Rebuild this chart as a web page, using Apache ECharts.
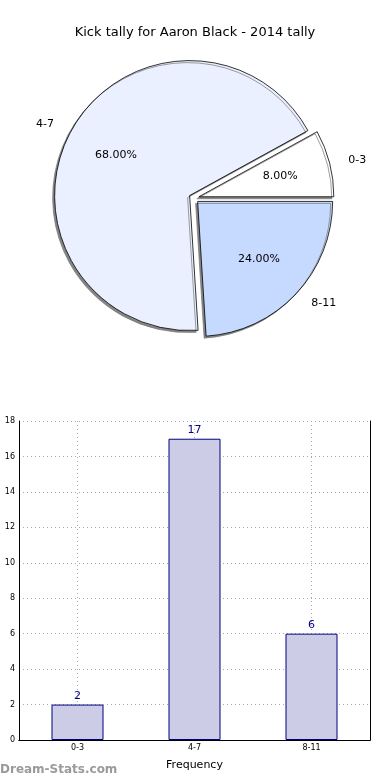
<!DOCTYPE html>
<html>
<head>
<meta charset="utf-8">
<script src="https://cdn.jsdelivr.net/npm/echarts@6/dist/echarts.min.js"></script>
<style>
html,body{margin:0;padding:0;background:#fff;}
#main{width:390px;height:780px;}
</style>
</head>
<body>
<div id="main"></div>
<script>
const titleText = 'Kick tally for Aaron Black - 2014 tally';
const categories = ['0-3', '4-7', '8-11'];
const counts = [2, 17, 6];
const sliceColors = ['#FFFFFF', '#EAF0FF', '#C6D9FF'];
const yTicks = [0, 2, 4, 6, 8, 10, 12, 14, 16, 18];
const xAxisName = 'Frequency';
const yAxisName = 'Occurrences';
const watermark = 'Dream-Stats.com';

const FONT = 'DejaVu Sans';
const total = counts.reduce((a, b) => a + b, 0);
const yMin = yTicks[0], yMax = yTicks[yTicks.length - 1], yStep = yTicks[1] - yTicks[0];

const pieData = categories.map((c, i) => ({
  name: c, value: counts[i], selected: true,
  itemStyle: { color: sliceColors[i] },
  select: { itemStyle: { color: sliceColors[i] } }
}));
const pieLabelData = categories.map((c, i) => ({
  name: c, value: counts[i], selected: true
}));

const chart = echarts.init(document.getElementById('main'), null, { renderer: 'canvas' });
chart.setOption({
  animation: false,
  backgroundColor: '#fff',
  title: {
    text: titleText, left: 'center', top: 21,
    textStyle: { fontFamily: FONT, fontSize: 13, fontWeight: 'normal', color: '#000' }
  },
  graphic: [{
    type: 'text', left: 0, top: 764,
    style: { text: watermark, fontFamily: FONT, fontSize: 12, fontWeight: 'bold', fill: '#9a9a9a' }
  }],
  grid: { left: 19, right: 20, top: 421, bottom: 40, containLabel: false, outerBoundsMode: 'none' },
  xAxis: [{
    type: 'category', data: categories,
    name: xAxisName, nameLocation: 'middle', nameGap: 20,
    nameTextStyle: { fontFamily: FONT, fontSize: 11, color: '#000' },
    axisLine: { show: true, lineStyle: { color: '#000', width: 1 } },
    axisTick: { show: false, alignWithLabel: true },
    axisLabel: { fontFamily: FONT, fontSize: 8, color: '#000', margin: 4 },
    splitLine: { show: true, alignWithLabel: true, lineStyle: { type: [1, 3], color: '#aaa' } }
  }, {
    type: 'category', data: categories, position: 'top',
    axisLine: { show: true, lineStyle: { color: '#000' } },
    axisTick: { show: false }, axisLabel: { show: false }, splitLine: { show: false }
  }],
  yAxis: [{
    type: 'value', min: yMin, max: yMax, interval: yStep,
    name: yAxisName, nameLocation: 'middle', nameGap: 12,
    nameTextStyle: { fontFamily: FONT, fontSize: 11, color: '#000' },
    axisLine: { show: true, lineStyle: { color: '#000', width: 1 } },
    axisTick: { show: false },
    axisLabel: { fontFamily: FONT, fontSize: 8, color: '#000', margin: 4 },
    splitLine: { show: true, lineStyle: { type: [1, 3], color: '#aaa' } }
  }, {
    type: 'value', min: yMin, max: yMax, interval: yStep, position: 'right',
    axisLine: { show: true, lineStyle: { color: '#000' } },
    axisTick: { show: false }, axisLabel: { show: false }, splitLine: { show: false }
  }],
  series: [
    {
      type: 'pie', center: [194, 198], radius: 135,
      startAngle: 0, clockwise: false,
      selectedMode: 'multiple', selectedOffset: 5,
      avoidLabelOverlap: false,
      data: pieData,
      itemStyle: {
        borderColor: '#000', borderWidth: 0.8,
        shadowColor: 'rgba(120,120,120,0.9)', shadowBlur: 0, shadowOffsetX: -2, shadowOffsetY: 2
      },
      label: {
        show: true, position: 'outside', formatter: '{b}',
        fontFamily: FONT, fontSize: 11, color: '#000'
      },
      labelLine: { show: false, length: 14, length2: 0 },
      emphasis: { disabled: true },
      silent: true, z: 2
    },
    {
      type: 'pie', center: [194, 198], radius: [27, 135],
      startAngle: 0, clockwise: false,
      selectedMode: 'multiple', selectedOffset: 5,
      data: pieLabelData,
      itemStyle: { color: 'rgba(0,0,0,0)', borderWidth: 0 },
      select: { itemStyle: { color: 'rgba(0,0,0,0)', borderWidth: 0 } },
      label: {
        show: true, position: 'inside',
        formatter: p => (p.value / total * 100).toFixed(2) + '%',
        fontFamily: FONT, fontSize: 11, color: '#000'
      },
      labelLine: { show: false },
      emphasis: { disabled: true },
      silent: true, z: 3
    },
    {
      type: 'bar', data: counts, barWidth: 52,
      itemStyle: { color: '#CCCCE6', borderColor: '#000080', borderWidth: 1 },
      label: {
        show: true, position: 'top', distance: 3,
        fontFamily: FONT, fontSize: 11, color: '#00008B'
      },
      emphasis: { disabled: true },
      silent: true
    }
  ]
});
</script>
</body>
</html>
